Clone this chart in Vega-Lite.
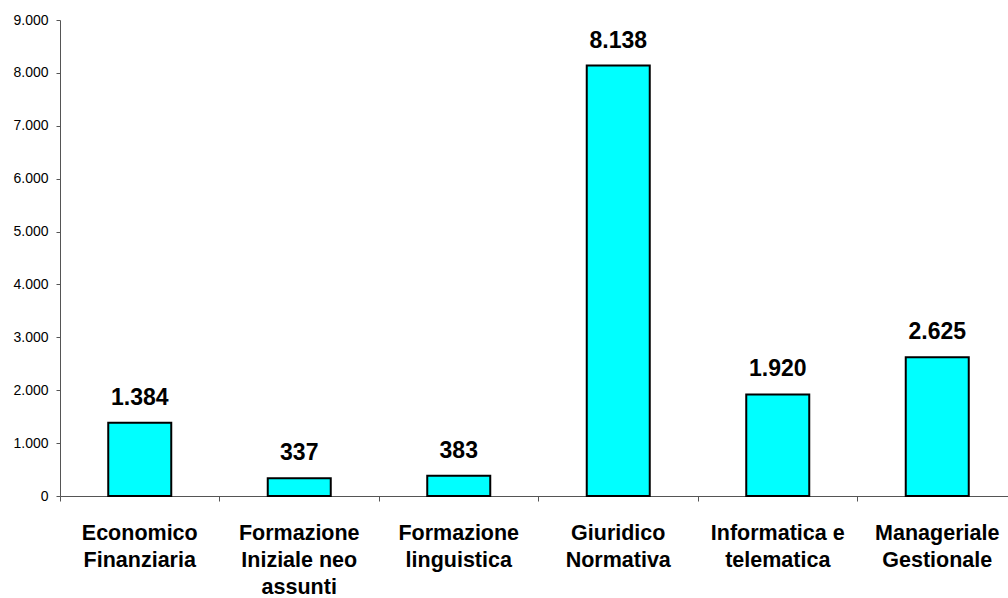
{
  "$schema": "https://vega.github.io/schema/vega-lite/v6.json",
  "width": 948,
  "height": 476,
  "autosize": "none",
  "padding": {"left": 60, "top": 20, "right": 0, "bottom": 102},
  "background": "white",
  "config": {
    "view": {"stroke": null},
    "font": "Liberation Sans",
    "locale": {"number": {"decimal": ",", "thousands": ".", "grouping": [3], "currency": ["€", ""]}}
  },
  "data": {
    "values": [
      {"area": "Economico Finanziaria", "value": 1384},
      {"area": "Formazione Iniziale neo assunti", "value": 337},
      {"area": "Formazione linguistica", "value": 383},
      {"area": "Giuridico Normativa", "value": 8138},
      {"area": "Informatica e telematica", "value": 1920},
      {"area": "Manageriale Gestionale", "value": 2625}
    ]
  },
  "encoding": {
    "x": {
      "field": "area",
      "type": "nominal",
      "sort": null,
      "scale": {"paddingInner": 0, "paddingOuter": 0, "range": [0, 957]},
      "axis": {
        "title": null,
        "labelAngle": 0,
        "bandPosition": 0,
        "domainColor": "#555",
        "tickColor": "#555",
        "tickSize": 5,
        "labelPadding": 21,
        "labelFont": "Liberation Sans",
        "labelFontSize": 21.5,
        "labelFontWeight": "bold",
        "labelColor": "black",
        "labelLineHeight": 27,
        "labelBaseline": "top",
        "labelLimit": 300,
        "labelExpr": "{'Economico Finanziaria':['Economico','Finanziaria'],'Formazione Iniziale neo assunti':['Formazione','Iniziale neo','assunti'],'Formazione linguistica':['Formazione','linguistica'],'Giuridico Normativa':['Giuridico','Normativa'],'Informatica e telematica':['Informatica e','telematica'],'Manageriale Gestionale':['Manageriale','Gestionale']}[datum.label]"
      }
    }
  },
  "layer": [
    {
      "mark": {"type": "bar", "color": "#00FFFF", "stroke": "black", "strokeWidth": 2, "width": {"band": 0.395}},
      "encoding": {
        "y": {
          "field": "value",
          "type": "quantitative",
          "scale": {"domain": [0, 9000], "nice": false},
          "axis": {
            "title": null,
            "values": [0, 1000, 2000, 3000, 4000, 5000, 6000, 7000, 8000, 9000],
            "format": ",.0f",
            "grid": false,
            "domainColor": "#555",
            "tickColor": "#555",
            "tickSize": 4,
            "labelPadding": 8,
            "labelFont": "Liberation Sans",
            "labelFontSize": 14,
            "labelColor": "black"
          }
        }
      }
    },
    {
      "mark": {"type": "text", "font": "Liberation Sans", "fontSize": 23, "fontWeight": "bold", "color": "black", "baseline": "alphabetic", "dy": -18},
      "encoding": {
        "y": {"field": "value", "type": "quantitative"},
        "text": {"field": "value", "type": "quantitative", "format": ",.0f"}
      }
    }
  ]
}
